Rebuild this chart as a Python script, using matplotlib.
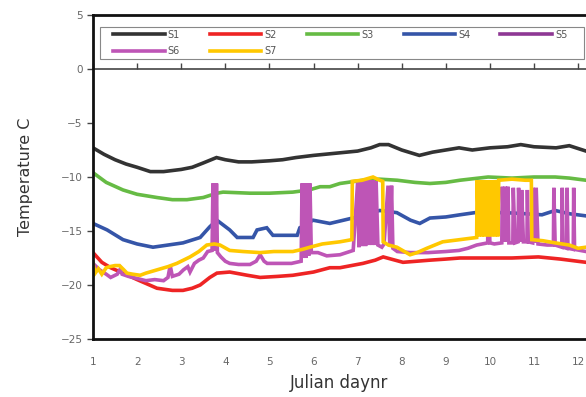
import matplotlib
matplotlib.use("Agg")
import matplotlib.pyplot as plt
from matplotlib.lines import Line2D
from matplotlib.patches import Rectangle

# ---- data (Julian day, temperature C) ----
s1_x = [1.0, 1.25, 1.5, 1.75, 2.0, 2.3, 2.6, 3.0, 3.25, 3.5, 3.8, 4.0, 4.3, 4.6, 5.0, 5.3, 5.6, 6.0,
        6.5, 7.0, 7.3, 7.5, 7.7, 8.0, 8.4, 8.7, 9.0, 9.3, 9.6, 10.0, 10.4, 10.7, 11.0, 11.5, 11.8, 12.18]
s1_y = [-7.3, -7.9, -8.4, -8.8, -9.1, -9.5, -9.5, -9.3, -9.1, -8.7, -8.2, -8.4, -8.6, -8.6, -8.5, -8.4, -8.2, -8.0,
        -7.8, -7.6, -7.3, -7.0, -7.0, -7.5, -8.0, -7.7, -7.5, -7.3, -7.5, -7.3, -7.2, -7.0, -7.2, -7.3, -7.1, -7.6]

s2_x = [1.0, 1.2, 1.4, 1.68, 2.0, 2.45, 2.8, 3.04, 3.25, 3.43, 3.65, 3.81, 4.1, 4.5, 4.79, 5.2, 5.53, 6.0,
        6.37, 6.6, 7.12, 7.4, 7.58, 8.03, 8.64, 9.0, 9.32, 9.96, 10.5, 11.1, 11.6, 12.18]
s2_y = [-17.0, -17.9, -18.4, -18.9, -19.5, -20.3, -20.5, -20.5, -20.3, -20.0, -19.3, -18.9, -18.8, -19.1, -19.3, -19.2, -19.1, -18.8,
        -18.4, -18.4, -18.0, -17.7, -17.4, -17.9, -17.7, -17.6, -17.5, -17.5, -17.5, -17.4, -17.6, -17.9]

s3_x = [1.0, 1.3, 1.68, 2.0, 2.45, 2.8, 3.13, 3.5, 3.81, 3.95, 4.56, 5.0, 5.53, 5.9, 6.15, 6.37, 6.6, 7.12,
        7.5, 7.9, 8.3, 8.64, 9.0, 9.32, 9.96, 10.5, 11.0, 11.48, 11.8, 12.18]
s3_y = [-9.6, -10.5, -11.2, -11.6, -11.9, -12.1, -12.1, -11.9, -11.5, -11.4, -11.5, -11.5, -11.4, -11.2, -10.9, -10.9, -10.6, -10.3,
        -10.2, -10.3, -10.5, -10.6, -10.5, -10.3, -10.0, -10.1, -10.0, -10.0, -10.1, -10.3]

s4_x = [1.0, 1.32, 1.68, 2.0, 2.36, 2.7, 3.04, 3.43, 3.65, 3.81, 4.1, 4.27, 4.63, 4.72, 4.94, 5.08, 5.63, 5.69,
        5.99, 6.37, 6.99, 7.5, 7.89, 8.2, 8.41, 8.64, 9.0, 9.32, 9.66, 10.34, 10.8, 11.18, 11.48, 11.8, 12.18]
s4_y = [-14.3, -14.9, -15.8, -16.2, -16.5, -16.3, -16.1, -15.6, -14.6, -14.0, -14.9, -15.6, -15.6, -14.9, -14.7, -15.4, -15.4, -14.7,
        -14.0, -14.3, -13.7, -13.1, -13.3, -14.0, -14.3, -13.8, -13.7, -13.5, -13.3, -13.3, -13.4, -13.5, -13.1, -13.4, -13.6]

s5_x = []
s5_y = []

s6_x = [1.0, 1.15, 1.3, 1.4, 1.55, 1.62, 1.66, 1.8, 2.0, 2.2, 2.4, 2.6, 2.7, 2.75, 2.8, 2.95, 3.05, 3.15, 3.2,
        3.3, 3.4, 3.5, 3.6, 3.7, 3.72, 3.74, 3.76, 3.78, 3.80, 3.82, 3.9, 4.0, 4.1, 4.3, 4.56, 4.7, 4.79, 4.88,
        4.95, 5.2, 5.5, 5.72, 5.74, 5.77, 5.80, 5.83, 5.86, 5.89, 5.92, 5.95, 6.1, 6.3, 6.6, 6.9, 7.0, 7.03,
        7.06, 7.1, 7.14, 7.18, 7.21, 7.25, 7.28, 7.32, 7.35, 7.39, 7.42, 7.46, 7.55, 7.6, 7.69, 7.73, 7.77,
        7.8, 7.9, 8.2, 8.6, 9.0, 9.3, 9.5, 9.7, 9.95, 9.96, 10.0, 10.1, 10.27, 10.28, 10.32, 10.35, 10.38,
        10.41, 10.43, 10.52, 10.53, 10.57, 10.64, 10.65, 10.7, 10.72, 10.76, 10.84, 10.85, 10.87, 10.97,
        10.98, 11.02, 11.05, 11.09, 11.3, 11.44, 11.45, 11.48, 11.63, 11.64, 11.66, 11.74, 11.75, 11.77,
        11.89, 11.9, 11.92, 12.18]
s6_y = [-18.0, -18.6, -19.0, -19.3, -19.0, -18.5, -19.0, -19.2, -19.4, -19.6, -19.5, -19.6, -19.3, -18.2, -19.2,
        -19.0, -18.6, -18.3, -18.8, -18.0, -17.7, -17.5, -16.9, -16.8, -10.6, -16.8, -10.6, -16.8, -10.6, -17.0,
        -17.4, -17.8, -18.0, -18.1, -18.1, -17.8, -17.2, -17.8, -18.0, -18.0, -18.0, -17.8, -10.6, -17.5, -10.6,
        -17.5, -10.6, -17.3, -10.6, -17.0, -17.0, -17.3, -17.2, -16.8, -10.5, -16.5, -10.4, -16.4, -10.3, -16.4,
        -10.3, -16.3, -10.3, -16.3, -10.3, -16.3, -10.4, -16.3, -16.5, -16.2, -10.8, -16.4, -10.8, -16.6, -16.9,
        -17.0, -17.0, -16.9, -16.8, -16.6, -16.3, -16.1, -10.9, -16.1, -16.2, -16.1, -10.9, -16.0, -10.9, -16.0,
        -10.9, -16.1, -16.1, -11.0, -16.1, -16.0, -11.0, -16.0, -11.2, -16.0, -16.0, -11.2, -16.0, -16.1, -11.0,
        -16.1, -11.0, -16.2, -16.3, -16.3, -11.0, -16.3, -16.5, -11.0, -16.5, -16.6, -11.0, -16.6, -16.7, -11.0,
        -16.7, -16.9]

s7_x = [1.0, 1.05, 1.12, 1.2, 1.3, 1.38, 1.5, 1.6, 1.7, 1.77, 1.9, 2.07, 2.2, 2.45, 2.7, 2.9, 3.05, 3.2, 3.4,
        3.58, 3.75, 3.88, 4.1, 4.4, 4.79, 5.1, 5.53, 5.75, 5.92, 6.2, 6.6, 6.87, 6.88, 7.1, 7.35, 7.5, 7.57,
        7.58, 7.7, 7.89, 8.19, 8.35, 8.57, 8.93, 9.32, 9.7, 9.71, 9.75, 9.78, 9.82, 9.85, 9.88, 9.92, 9.96,
        10.0, 10.04, 10.08, 10.12, 10.16, 10.18, 10.2, 10.5, 10.8, 10.94, 10.95, 11.2, 11.48, 11.8, 12.0, 12.18]
s7_y = [-18.0, -18.9, -18.5, -19.0, -18.4, -18.3, -18.2, -18.2, -18.6, -18.9, -19.0, -19.1, -18.9, -18.6, -18.3,
        -18.0, -17.7, -17.4, -16.9, -16.3, -16.2, -16.3, -16.8, -16.9, -17.0, -16.9, -16.9, -16.7, -16.5, -16.2,
        -16.0, -15.8, -10.4, -10.3, -10.0, -10.3, -10.4, -16.0, -16.3, -16.5, -17.2, -17.0, -16.6, -16.0, -15.8,
        -15.6, -10.3, -15.5, -10.3, -15.5, -10.3, -15.5, -10.3, -15.5, -10.3, -15.5, -10.3, -15.5, -10.3, -15.5,
        -10.3, -10.2, -10.3, -10.3, -15.8, -15.9, -16.1, -16.3, -16.6, -16.5]

series = [
    ("S1", s1_x, s1_y, "#333333"),
    ("S2", s2_x, s2_y, "#EE2424"),
    ("S3", s3_x, s3_y, "#66BB44"),
    ("S4", s4_x, s4_y, "#3555A8"),
    ("S5", s5_x, s5_y, "#8E3894"),
    ("S6", s6_x, s6_y, "#BE55B6"),
    ("S7", s7_x, s7_y, "#FFC800"),
]

x_ticks = list(range(1, 13))
y_ticks = [-25, -20, -15, -10, -5, 0, 5]

W, H = 586, 397
fig = plt.figure(figsize=(W / 100, H / 100), dpi=100)
ax = fig.add_axes([93 / W, 1 - 339 / H, 1 - 93 / W, (339 - 15) / H])

handles = {}
for name, xs, ys, col in series:
    ax.plot(xs, ys, color=col, lw=2.6, solid_joinstyle="miter")
    handles[name] = Line2D([], [], color=col, lw=2.6)

ax.set_xlim(1, 1 + (W - 93) / 44.1)
ax.set_ylim(-25, 5)
ax.set_xticks(x_ticks)
ax.set_yticks(y_ticks)
ax.tick_params(axis="x", length=0, labelsize=7.5, labelcolor="#666666", pad=13)
ax.tick_params(axis="y", length=4, width=1, direction="out", labelsize=7.5, labelcolor="#666666", color="#444444")
for sp in ["left", "bottom", "top"]:
    ax.spines[sp].set_linewidth(2)
    ax.spines[sp].set_color("#111111")
ax.spines["right"].set_visible(False)

# horizontal axis line crossing at 0 with tick marks
sec = ax.secondary_xaxis(25 / 30)
sec.set_xticks(x_ticks)
sec.tick_params(axis="x", length=4, width=1, direction="out", labelbottom=False, labeltop=False, color="#444444")
for sp in ["bottom", "top"]:
    sec.spines[sp].set_linewidth(1.2)
    sec.spines[sp].set_color("#444444")

ax.set_xlabel("Julian daynr", fontsize=12, color="#333333", labelpad=5)
ax.set_ylabel("Temperature C", fontsize=11.5, color="#333333", labelpad=20)

# legend: row-major order S1..S5 / S6, S7
order = ["S1", "S6", "S2", "S7", "S3", "S4", "S5"]
fig.patches.append(Rectangle((100 / W, 1 - 59 / H), (584 - 100) / W, (59 - 27) / H,
                             transform=fig.transFigure, fill=False, edgecolor="#888888", lw=0.8))
leg = fig.legend([handles[n] for n in order], order, ncol=5, loc="upper left",
                 bbox_to_anchor=(113 / W, 1 - 29.5 / H), fontsize=7, frameon=False,
                 handlelength=5.3, handletextpad=0.3, columnspacing=3.1, borderpad=0.0,
                 labelspacing=0.7, borderaxespad=0)
for t in leg.get_texts():
    t.set_color("#555555")

fig.savefig("out.png", dpi=100)
